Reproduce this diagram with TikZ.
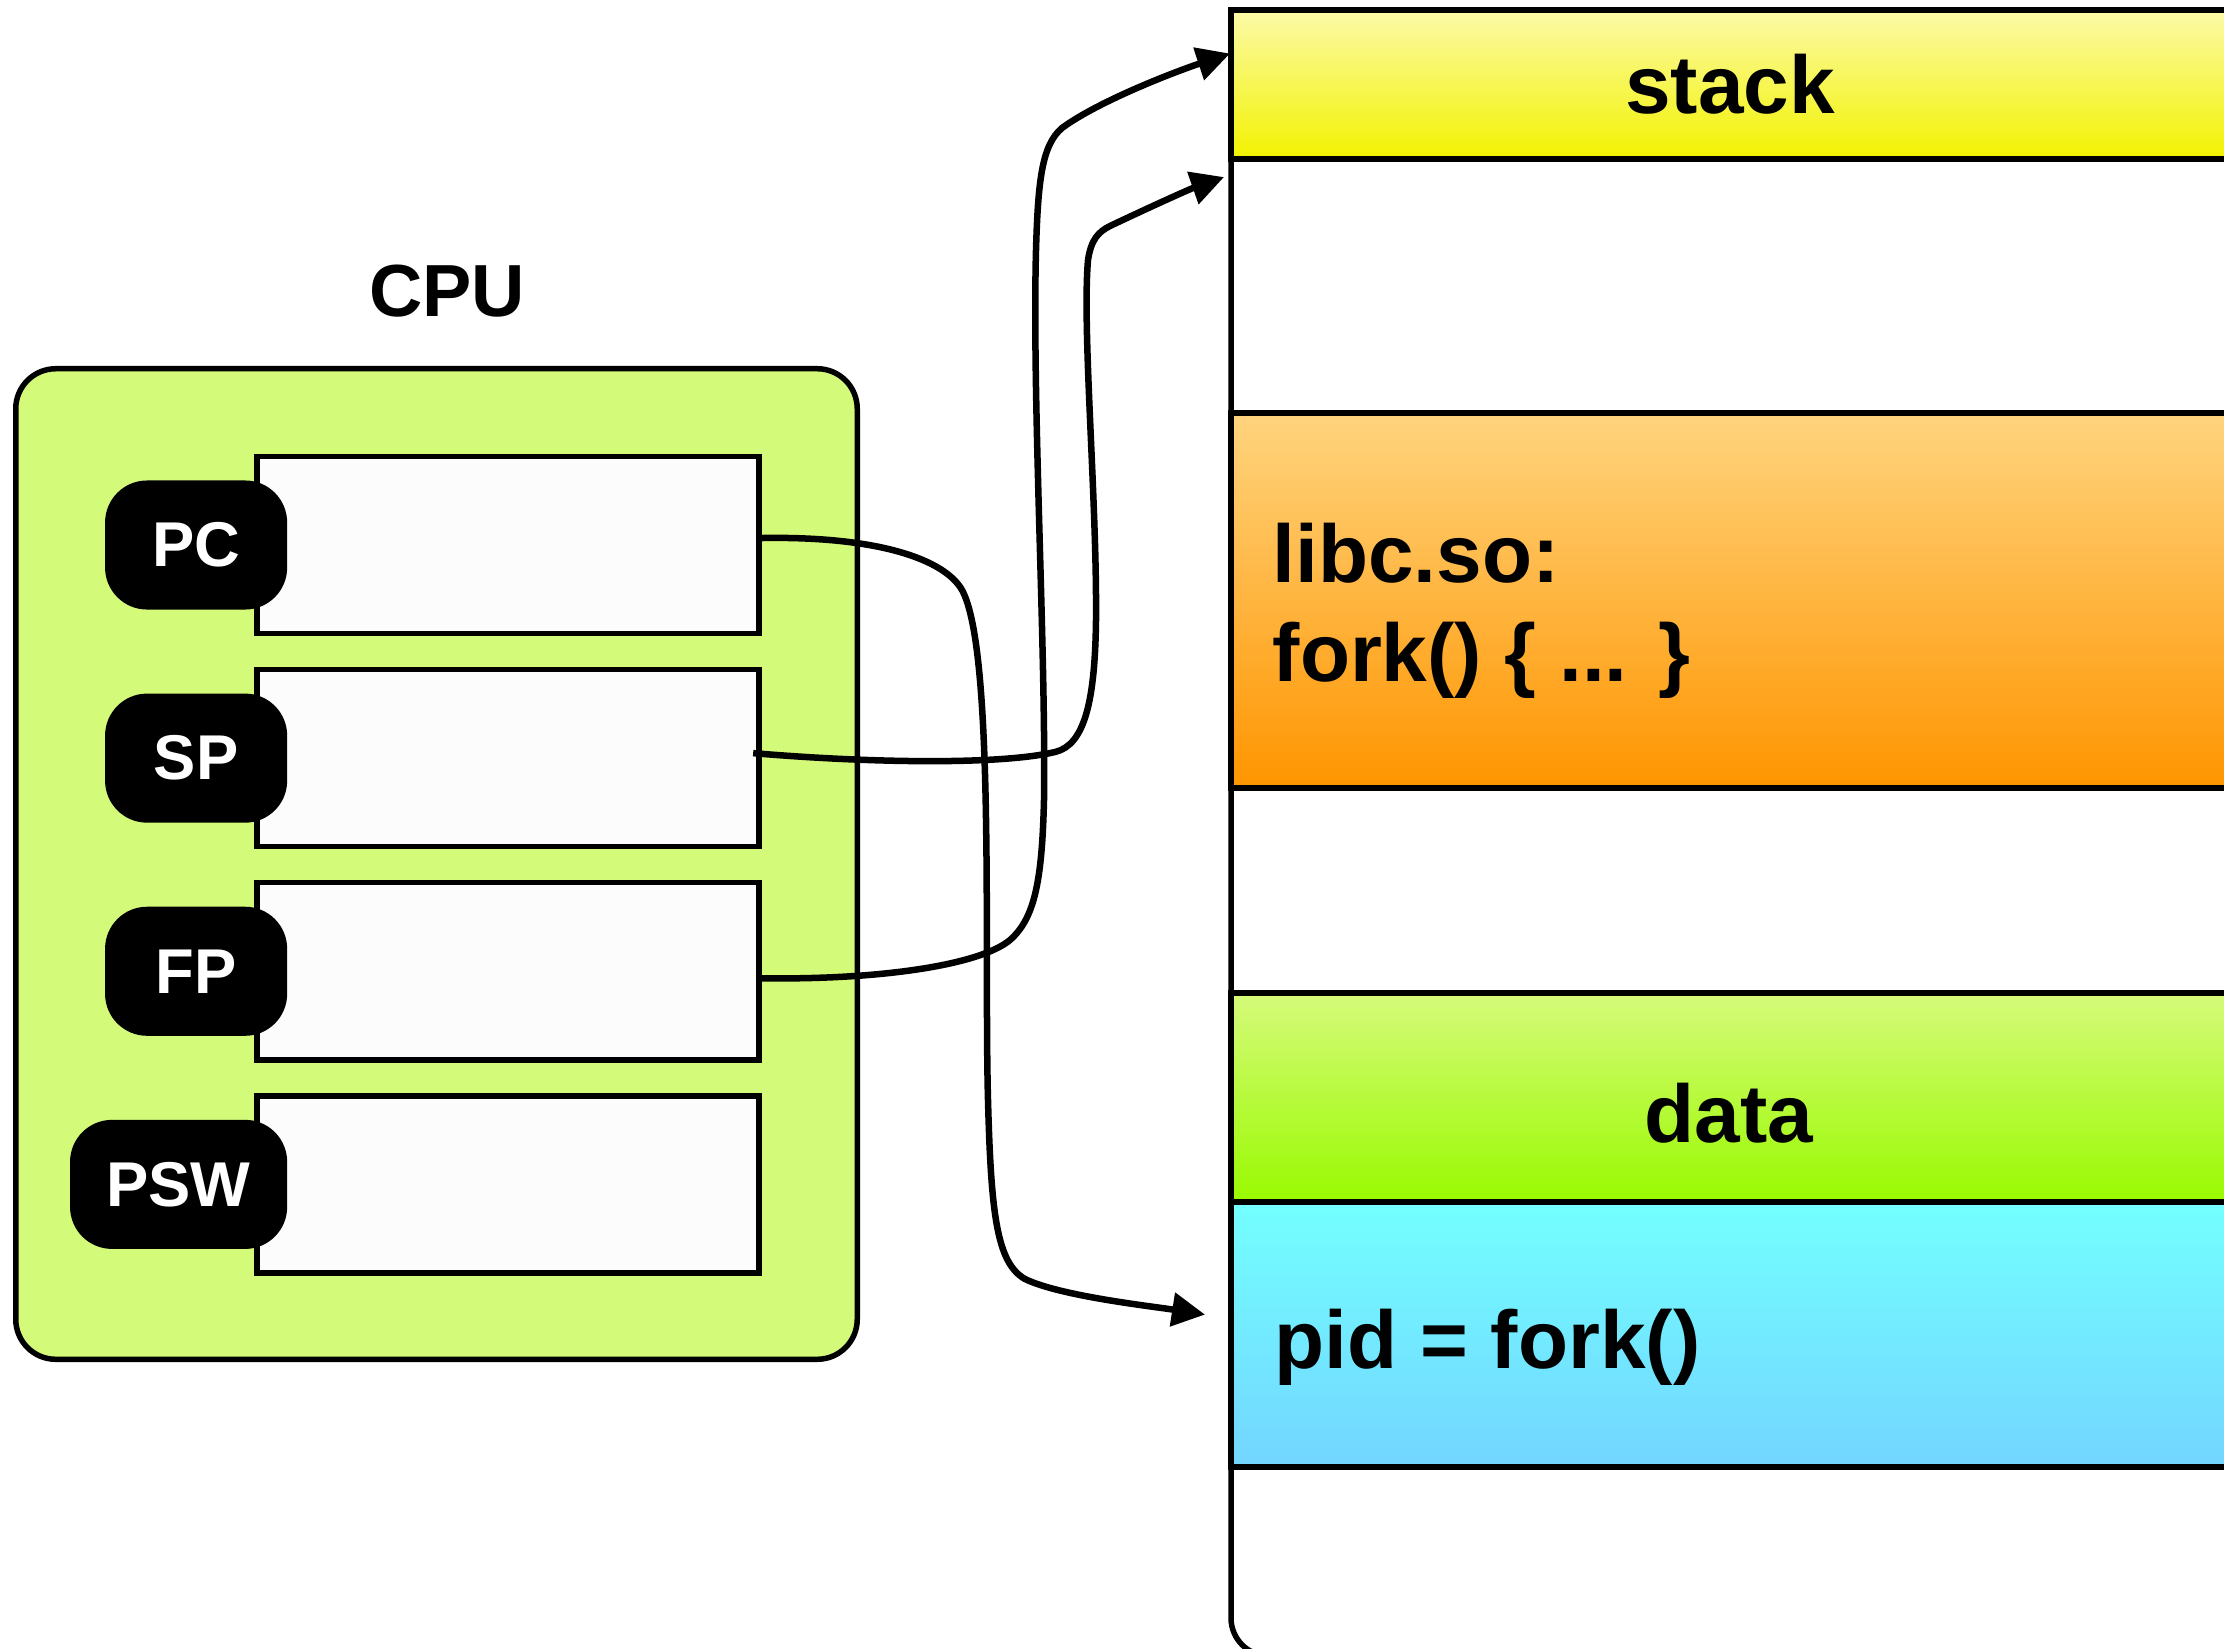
\documentclass[tikz,border=0pt]{standalone}
\usepackage{fontspec}
\setmainfont{Liberation Sans}
\usepackage{tikz}
\usetikzlibrary{calc, arrows.meta, positioning}

\definecolor{cpugreen}{RGB}{212,250,122}
\definecolor{regwhite}{RGB}{252,252,252}
\definecolor{stacktop}{RGB}{252,250,168}
\definecolor{stackbot}{RGB}{242,242,0}
\definecolor{libctop}{RGB}{255,212,126}
\definecolor{libcbot}{RGB}{255,149,0}
\definecolor{datatop}{RGB}{214,250,122}
\definecolor{databot}{RGB}{153,250,0}
\definecolor{pidtop}{RGB}{115,255,255}
\definecolor{pidbot}{RGB}{115,213,255}

\tikzstyle{register} = [rectangle, draw, fill=regwhite, line width=0.055cm, outer sep=0pt, minimum width=5.02cm, minimum height=1.77cm]
\tikzstyle{badge} = [rectangle, fill=black, text=white, rounded corners=0.42cm, minimum width=1.82cm, minimum height=1.29cm, anchor=east, font=\bfseries\fontsize{18}{20}\selectfont]
\tikzstyle{segment} = [rectangle, draw, line width=0.055cm, outer sep=0pt, anchor=north west, minimum width=10.3cm]
\tikzstyle{bigtext} = [inner sep=0pt, font=\bfseries\fontsize{23.3}{28.1}\selectfont]
\tikzstyle{link} = [->, line width=0.065cm]

\begin{document}
\begin{tikzpicture}[x=0.01cm, y=-0.01cm, >={Triangle[length=0.33cm, width=0.33cm]}]
        \useasboundingbox (0, 0) rectangle (2224, 1648);
        \clip (0, 0) rectangle (2224, 1648);

        % cpu and its registers
        \node[draw, line width=0.055cm, fill=cpugreen, rounded corners=0.4cm, outer sep=0pt, minimum width=8.41cm, minimum height=9.9cm] at (436.5, 864) (cpu) {};
        \node[font=\bfseries\fontsize{21}{24}\selectfont, inner sep=0pt] at (447, 291) (cpulabel) {CPU};

        \node[register] at (508, 545) (pc) {};
        \node[register, below=0.36cm of pc] (sp) {};
        \node[register, below=0.36cm of sp] (fp) {};
        \node[register, below=0.36cm of fp] (psw) {};

        \node[badge] at ([xshift=0.31cm]pc.west) (pcbadge) {PC};
        \node[badge] at ([xshift=0.31cm]sp.west) (spbadge) {SP};
        \node[badge] at ([xshift=0.31cm]fp.west) (fpbadge) {FP};
        \node[badge, minimum width=2.17cm] at ([xshift=0.31cm]psw.west) (pswbadge) {PSW};

        % address space
        \node[draw, line width=0.055cm, fill=white, rounded corners=0.38cm, outer sep=0pt, anchor=north west, minimum width=10.3cm, minimum height=16.45cm] at (1231, 10) (memory) {};
        \node[segment, top color=stacktop, bottom color=stackbot, minimum height=1.49cm] at (1231, 10) (stack) {};
        \node[segment, top color=libctop, bottom color=libcbot, minimum height=3.75cm] at (1231, 413) (libc) {};
        \node[segment, top color=datatop, bottom color=databot, minimum height=2.09cm] at (1231, 993) (data) {};
        \node[segment, top color=pidtop, bottom color=pidbot, minimum height=2.65cm] at (1231, 1202) (pid) {};

        \node[bigtext, anchor=base] at (1730, 113) (stacklabel) {stack};
        \node[bigtext, anchor=west, align=left] at (1272, 611) (libclabel) {libc.so:\\fork() \{ ... \}};
        \node[bigtext, anchor=base] at (1729, 1142) (datalabel) {data};
        \node[bigtext, anchor=base west] at (1274, 1368) (pidlabel) {pid = fork()};

        % where the registers point
        \draw[link] ($(pc.east)+(3, -7)$) .. controls (880, 536) and (945, 560) .. (962, 590)
            .. controls (995, 650) and (984, 950) .. (988, 1100)
            .. controls (991, 1215) and (997, 1263) .. (1025, 1279)
            .. controls (1060, 1296) and (1150, 1306) .. ($(pid.west)+(-26, -20)$);
        \draw[link] ($(sp.east)+(-6, -5)$) .. controls (870, 763) and (1000, 765) .. (1055, 752)
            .. controls (1085, 745) and (1095, 700) .. (1096, 620)
            .. controls (1097, 500) and (1082, 330) .. (1088, 260)
            .. controls (1091, 240) and (1098, 232) .. (1110, 226)
            .. controls (1150, 207) and (1190, 189) .. ($(stack.south west)+(-7, 18)$);
        \draw[link] ($(fp.east)+(3, 7)$) .. controls (880, 980) and (980, 965) .. (1010, 940)
            .. controls (1035, 918) and (1042, 880) .. (1044, 800)
            .. controls (1046, 650) and (1032, 400) .. (1036, 250)
            .. controls (1038, 180) and (1042, 145) .. (1062, 128)
            .. controls (1100, 100) and (1180, 70) .. ($(stack.west)+(-1, -31)$);
\end{tikzpicture}
\end{document}
